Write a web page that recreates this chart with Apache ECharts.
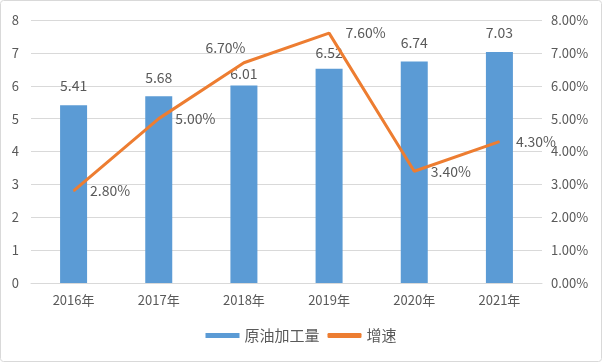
<!DOCTYPE html>
<html><head><meta charset="utf-8">
<script src="https://cdn.jsdelivr.net/npm/echarts@6/dist/echarts.min.js"></script>
<style>html,body{margin:0;padding:0;background:#fff}#c{width:602px;height:362px}</style>
</head><body><div id="c"></div>
<script>
const categories = ['2016年','2017年','2018年','2019年','2020年','2021年'];
const output = [5.41, 5.68, 6.01, 6.52, 6.74, 7.03];
const growth = [2.80, 5.00, 6.70, 7.60, 3.40, 4.30];
const leftTicks = {min:0, max:8, interval:1};
const rightTicks = {min:0, max:8, interval:1};

const font = '"Noto Sans CJK SC", "Noto Sans", sans-serif';
const txt = '#595959';
const chart = echarts.init(document.getElementById('c'), null, {renderer:'canvas'});
const barData = output.map((v,i)=>{
  const d = {value:v};
  if(i===2) d.label = {distance:5};
  if(i===3) d.label = {distance:9};
  return d;
});
chart.setOption({
  animation:false,
  textStyle:{fontFamily:font},
  graphic:[{type:'rect', shape:{x:0.5,y:0.5,width:601,height:361,r:3}, style:{fill:'none',stroke:'#d9d9d9',lineWidth:1}, silent:true}],
  grid:{left:31, right:60, top:20, bottom:79},
  legend:{bottom:14, left:'center', itemGap:8, textStyle:{color:txt, fontSize:15, fontFamily:font},
    data:[{name:'原油加工量', icon:'rect'}, {name:'增速', icon:'roundRect'}], itemWidth:34, itemHeight:5},
  xAxis:{type:'category', data:categories, axisTick:{show:false},
    axisLine:{show:true, lineStyle:{color:'#d9d9d9'}},
    axisLabel:{color:txt, fontSize:13, margin:11, fontFamily:font}},
  yAxis:[
    {type:'value', min:leftTicks.min, max:leftTicks.max, interval:leftTicks.interval,
     axisLine:{show:false}, axisTick:{show:false},
     splitLine:{lineStyle:{color:'#d9d9d9'}},
     axisLabel:{color:txt, fontSize:13, margin:12, fontFamily:font}},
    {type:'value', min:rightTicks.min, max:rightTicks.max, interval:rightTicks.interval,
     axisLine:{show:false}, axisTick:{show:false}, splitLine:{show:false},
     axisLabel:{color:txt, fontSize:13, margin:9, fontFamily:font, formatter:v=>v.toFixed(2)+'%'}}
  ],
  series:[
    {name:'原油加工量', type:'bar', data:barData, barWidth:27, itemStyle:{color:'#5B9BD5'},
     label:{show:true, position:'top', distance:12, color:txt, fontSize:14, fontFamily:font, formatter:p=>p.value.toFixed(2)}},
    {name:'增速', type:'line', yAxisIndex:1, data:growth, symbol:'circle', symbolSize:1, showSymbol:true,
     lineStyle:{color:'#ED7D31', width:3}, itemStyle:{color:'#ED7D31'},
     label:{show:true, position:'right', distance:16, color:txt, fontSize:14, fontFamily:font, formatter:p=>p.value.toFixed(2)+'%'},
     labelLayout:function(params){ if(params.dataIndex===2){ return {x:params.rect.x-38, y:params.rect.y-22}; } return {}; }}
  ]
});
</script></body></html>
